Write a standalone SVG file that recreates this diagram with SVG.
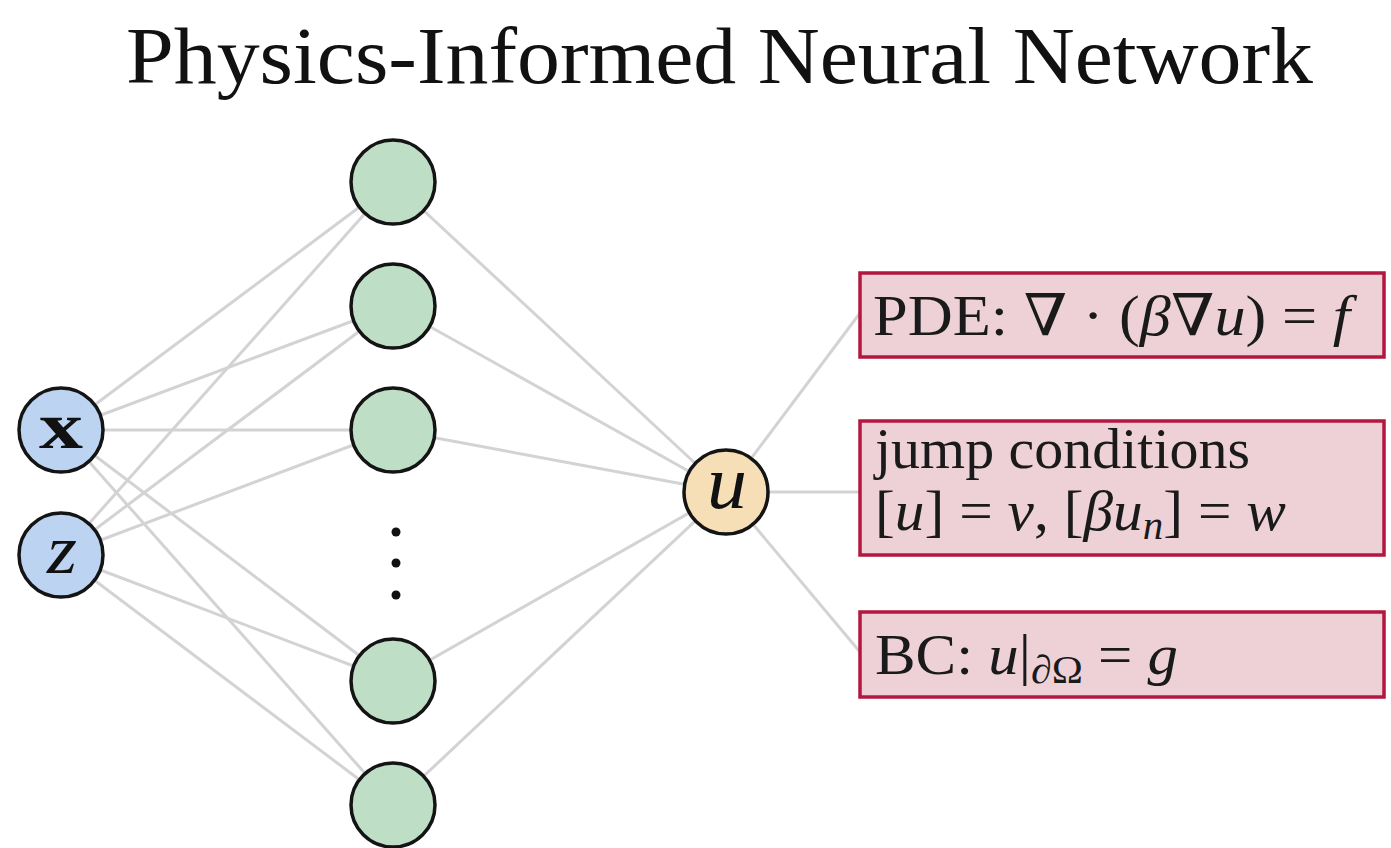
<svg xmlns="http://www.w3.org/2000/svg" width="1391" height="848" viewBox="0 0 1391 848">
  <style>
    .title { font-family: "Liberation Serif", "DejaVu Serif", serif; font-size: 80px; fill: #111; }
    .lbl { font-family: "Liberation Serif", "DejaVu Serif", serif; font-size: 58px; fill: #1a1a1a; }
    .it { font-style: italic; }
    .node { stroke: #141414; stroke-width: 3.5; }
    .in { fill: #bcd4f1; }
    .hid { fill: #bfdec6; }
    .out { fill: #f6dfb6; }
    .box { fill: #edd1d7; stroke: #b3173f; stroke-width: 3.5; }
    .edge line { stroke: #d3d3d3; stroke-width: 3; }
    .nlbl { font-family: "Liberation Serif", "DejaVu Serif", serif; fill: #111; text-anchor: middle; }
  </style>
  <rect width="1391" height="848" fill="#ffffff"/>

  <text class="title" x="126" y="83" textLength="1187" lengthAdjust="spacingAndGlyphs">Physics-Informed Neural Network</text>

  <!-- connectors -->
  <g id="connectors" class="edge">
    <!-- input layer to hidden layer -->
    <line x1="61" y1="430" x2="393" y2="182"/>
    <line x1="61" y1="430" x2="393" y2="306"/>
    <line x1="61" y1="430" x2="393" y2="430"/>
    <line x1="61" y1="430" x2="393" y2="681"/>
    <line x1="61" y1="430" x2="393" y2="805"/>
    <line x1="61" y1="555" x2="393" y2="182"/>
    <line x1="61" y1="555" x2="393" y2="306"/>
    <line x1="61" y1="555" x2="393" y2="430"/>
    <line x1="61" y1="555" x2="393" y2="681"/>
    <line x1="61" y1="555" x2="393" y2="805"/>
    <!-- hidden layer to output -->
    <line x1="393" y1="182" x2="726" y2="492"/>
    <line x1="393" y1="306" x2="726" y2="492"/>
    <line x1="393" y1="430" x2="726" y2="492"/>
    <line x1="393" y1="681" x2="726" y2="492"/>
    <line x1="393" y1="805" x2="726" y2="492"/>
    <!-- output to loss terms -->
    <line x1="726" y1="492" x2="860" y2="313"/>
    <line x1="726" y1="492" x2="860" y2="492"/>
    <line x1="726" y1="492" x2="860" y2="652"/>
  </g>

  <!-- input nodes -->
  <g id="in-x">
    <circle class="node in" cx="61" cy="430" r="42"/>
    <text class="nlbl" x="61" y="448" font-size="66" font-weight="bold" textLength="44" lengthAdjust="spacingAndGlyphs">x</text>
  </g>
  <g id="in-z">
    <circle class="node in" cx="61" cy="555" r="42"/>
    <text class="nlbl it" x="62" y="573" font-size="70" textLength="30" lengthAdjust="spacingAndGlyphs">z</text>
  </g>

  <!-- hidden nodes -->
  <g id="h1"><circle class="node hid" cx="393" cy="182" r="42"/></g>
  <g id="h2"><circle class="node hid" cx="393" cy="306" r="42"/></g>
  <g id="h3"><circle class="node hid" cx="393" cy="430" r="42"/></g>
  <g id="h-ellipsis">
    <circle cx="396" cy="532" r="4.5" fill="#111"/>
    <circle cx="396" cy="563" r="4.5" fill="#111"/>
    <circle cx="396" cy="595" r="4.5" fill="#111"/>
  </g>
  <g id="h4"><circle class="node hid" cx="393" cy="681" r="42"/></g>
  <g id="h5"><circle class="node hid" cx="393" cy="805" r="42"/></g>

  <!-- output node -->
  <g id="out-u">
    <circle class="node out" cx="726" cy="492" r="42"/>
    <text class="nlbl it" x="727" y="508" font-size="76" textLength="40" lengthAdjust="spacingAndGlyphs">u</text>
  </g>

  <!-- loss terms -->
  <g id="pde">
    <rect class="box" x="860" y="273" width="524" height="84"/>
    <text class="lbl" x="873" y="335" textLength="477" lengthAdjust="spacingAndGlyphs">PDE: ∇ · (<tspan class="it">β</tspan>∇<tspan class="it">u</tspan>) = <tspan class="it">f</tspan></text>
  </g>
  <g id="jump">
    <rect class="box" x="860" y="421" width="524" height="134"/>
    <text class="lbl" x="875" y="468" textLength="375" lengthAdjust="spacingAndGlyphs">jump conditions</text>
    <text class="lbl" x="875" y="530" textLength="411" lengthAdjust="spacingAndGlyphs">[<tspan class="it">u</tspan>] = <tspan class="it">v</tspan>, [<tspan class="it">βu</tspan><tspan class="it" font-size="40" dy="9">n</tspan><tspan dy="-9">] = </tspan><tspan class="it">w</tspan></text>
  </g>
  <g id="bc">
    <rect class="box" x="860" y="612" width="524" height="85"/>
    <text class="lbl" x="875" y="674" textLength="303" lengthAdjust="spacingAndGlyphs">BC: <tspan class="it">u</tspan>|<tspan font-size="40" dy="9">∂Ω</tspan><tspan dy="-9"> = </tspan><tspan class="it">g</tspan></text>
  </g>
</svg>
